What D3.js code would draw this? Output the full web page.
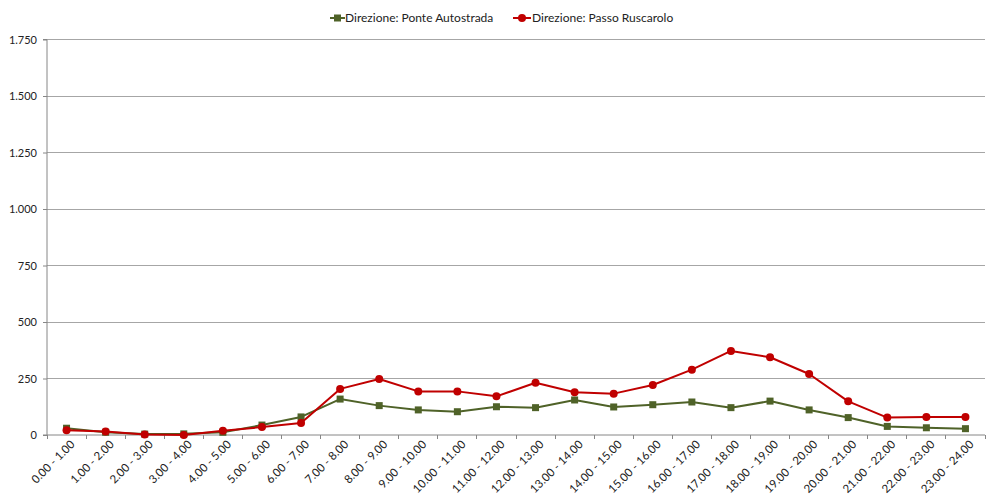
<!DOCTYPE html>
<html><head><meta charset="utf-8">
<script src="https://cdn.jsdelivr.net/npm/d3@7/dist/d3.min.js"></script>
<style>body{margin:0;background:#fff}svg{display:block}text{font-family:Lato,"Open Sans",sans-serif;fill:#222}</style>
</head><body><svg id="c" width="988" height="494"></svg>
<script>
const categories = ["0.00 - 1.00","1.00 - 2.00","2.00 - 3.00","3.00 - 4.00","4.00 - 5.00","5.00 - 6.00","6.00 - 7.00","7.00 - 8.00","8.00 - 9.00","9.00 - 10.00","10.00 - 11.00","11.00 - 12.00","12.00 - 13.00","13.00 - 14.00","14.00 - 15.00","15.00 - 16.00","16.00 - 17.00","17.00 - 18.00","18.00 - 19.00","19.00 - 20.00","20.00 - 21.00","21.00 - 22.00","22.00 - 23.00","23.00 - 24.00"];
const ponteAutostrada = [30,12,4,5,12,44,80,159,130,111,103,125,121,155,124,134,146,121,150,111,77,38,32,28];
const passoRuscarolo = [21,15,2,0,19,35,53,204,248,193,193,171,231,189,183,221,289,372,344,270,149,77,80,80];
const yTicks = [0,250,500,750,1000,1250,1500,1750];
const seriesNames = ["Direzione: Ponte Autostrada","Direzione: Passo Ruscarolo"];
const colors = ["#4F6228","#C00000"];

const svg = d3.select("#c");
const L=47,R=985,T=39.5,B=435;
const x = d3.scaleBand().domain(categories).range([L,R]);
const y = d3.scaleLinear().domain([0,1750]).range([B,T]);
const fmt = v => d3.format(",")(v).replace(/,/g,".");

svg.append("g").selectAll("line").data(yTicks.filter(d=>d>0)).join("line")
  .attr("x1",L).attr("x2",R).attr("y1",d=>y(d)).attr("y2",d=>y(d))
  .attr("stroke","#a6a6a6").attr("stroke-width",1).attr("shape-rendering","crispEdges");

const ya = svg.append("g").attr("transform",`translate(${L},0)`)
  .call(d3.axisLeft(y).tickValues(yTicks).tickFormat(fmt).tickSize(4).tickPadding(6));
ya.select(".domain").attr("stroke","#868686").attr("d",`M-4,${T}H0V${B}H-4`);
ya.selectAll(".tick line").attr("stroke","#868686");
ya.selectAll("text").attr("font-size",11).style("font-family","Lato,'Open Sans',sans-serif").attr("fill","#222");

const xa = svg.append("g").attr("transform",`translate(0,${B})`)
  .call(d3.axisBottom(x).tickSize(0).tickFormat(d=>d));
xa.select(".domain").attr("stroke","#868686").attr("d",`M${L},0H${R}`);
xa.append("g").selectAll("line").data(d3.range(categories.length+1)).join("line")
  .attr("x1",i=>L+i*x.bandwidth()).attr("x2",i=>L+i*x.bandwidth())
  .attr("y1",0).attr("y2",4).attr("stroke","#868686").attr("shape-rendering","crispEdges");
xa.selectAll(".tick text")
  .attr("font-size",11.5).style("font-family","Lato,'Open Sans',sans-serif").attr("fill","#222")
  .attr("text-anchor","end").attr("dy",0).attr("y",0)
  .attr("transform","translate(9,10) rotate(-45)");

const data = [ponteAutostrada, passoRuscarolo];
const line = d3.line().x((d,i)=>x(categories[i])+x.bandwidth()/2).y(d=>y(d));
data.forEach((s,k)=>{
  svg.append("path").datum(s).attr("d",line).attr("fill","none")
    .attr("stroke",colors[k]).attr("stroke-width",2).attr("stroke-linejoin","round");
  const g = svg.append("g");
  if(k===0){
    g.selectAll("rect").data(s).join("rect")
      .attr("x",(d,i)=>x(categories[i])+x.bandwidth()/2-3.5).attr("y",d=>y(d)-3.5)
      .attr("width",7).attr("height",7).attr("fill",colors[k]);
  } else {
    g.selectAll("circle").data(s).join("circle")
      .attr("cx",(d,i)=>x(categories[i])+x.bandwidth()/2).attr("cy",d=>y(d))
      .attr("r",4).attr("fill",colors[k]);
  }
});

const leg = svg.append("g");
const items = [{x:330,tx:345},{x:513,tx:532}];
items.forEach((it,k)=>{
  const w = k===0?15:18;
  leg.append("line").attr("x1",it.x).attr("x2",it.x+w).attr("y1",18).attr("y2",18)
    .attr("stroke",colors[k]).attr("stroke-width",2);
  if(k===0) leg.append("rect").attr("x",it.x+w/2-3.5).attr("y",14.5).attr("width",7).attr("height",7).attr("fill",colors[k]);
  else leg.append("circle").attr("cx",it.x+w/2).attr("cy",18).attr("r",4).attr("fill",colors[k]);
  leg.append("text").attr("x",it.tx).attr("y",18).attr("dy","0.35em").attr("font-size",12).text(seriesNames[k]);
});
</script></body></html>
